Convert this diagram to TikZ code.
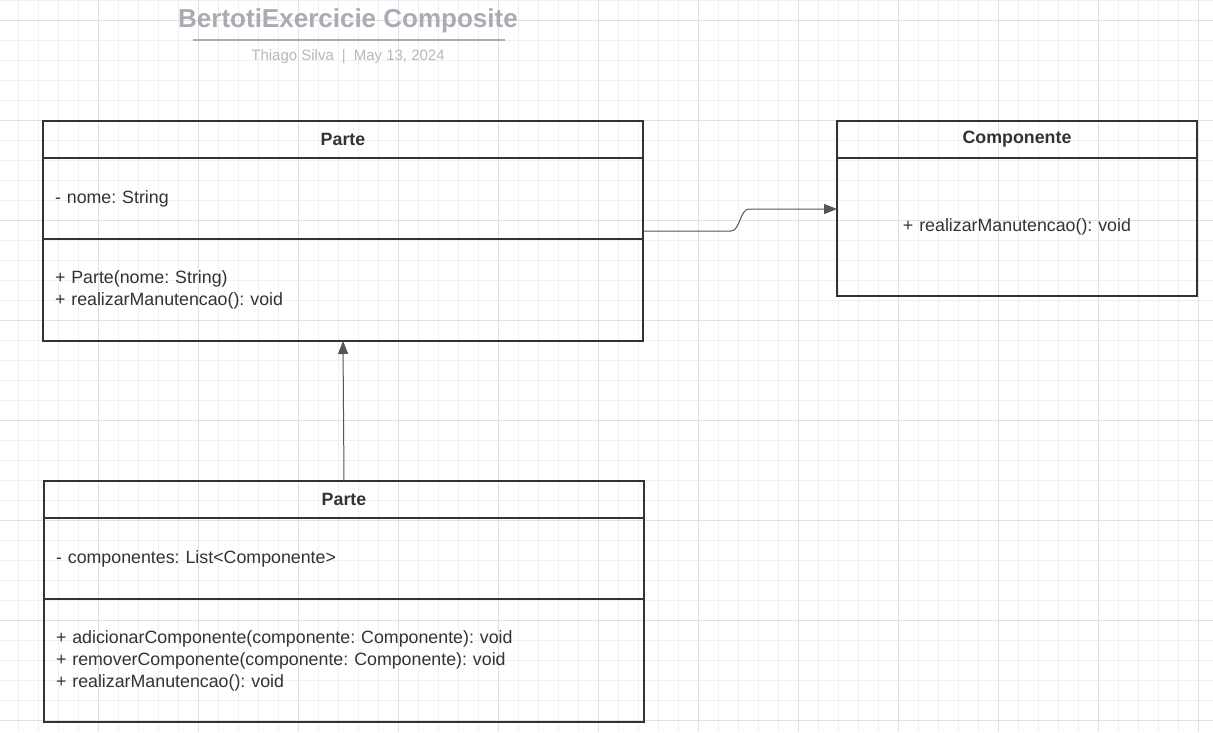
\documentclass[tikz,border=0pt]{standalone}
\usepackage{fontspec}
\setmainfont{Liberation Sans}
\usetikzlibrary{arrows.meta, positioning, calc}
\definecolor{ink}{HTML}{333333}
\definecolor{titlegray}{HTML}{A9ACB5}
\definecolor{subgray}{HTML}{B6B8BF}
\definecolor{gridminor}{HTML}{F0F0F0}
\definecolor{gridmajor}{HTML}{E0E0E0}
\definecolor{wire}{HTML}{555555}
\frenchspacing

\begin{document}
\begin{tikzpicture}[
  x=1pt, y=-1pt,
  >=Stealth,
  font=\fontsize{17.8}{22}\selectfont,
  every node/.style={text=ink},
  % Node styles
  head/.style    = {rectangle, draw=ink, line width=2pt, anchor=north west,
                    minimum width=600pt, minimum height=37pt,
                    inner sep=0pt, outer sep=0pt,
                    font=\fontsize{17.8}{22}\selectfont\bfseries},
  compart/.style = {rectangle, draw=ink, line width=2pt, anchor=north west,
                    minimum width=600pt, text width=576pt, align=left,
                    inner sep=0pt, outer sep=0pt},
  % Arrow styles
  assoc/.style   = {-{Triangle[length=13pt, width=10pt]}, line width=1pt, wire},
  % Grid styles
  minorgrid/.style = {gridminor, line width=1pt},
  majorgrid/.style = {gridmajor, line width=1pt}
]
\useasboundingbox (0,0) rectangle (1213,732);

% =========================== BACKGROUND GRID ===========================
\begin{scope}
  \clip (0,0) rectangle (1213,732);
  \fill[white] (0,0) rectangle (1213,732);
  \foreach \gx in {18,38,...,1218} \draw[minorgrid] (\gx,0) -- (\gx,732);
  \foreach \gy in {0,20,...,740}   \draw[minorgrid] (0,\gy) -- (1213,\gy);
  \foreach \gx in {-2,98,...,1198} \draw[majorgrid] (\gx,0) -- (\gx,732);
  \foreach \gy in {20,120,...,720} \draw[majorgrid] (0,\gy) -- (1213,\gy);
\end{scope}

% =========================== TITLE ===========================
\node[font=\fontsize{26}{30}\selectfont\bfseries, text=titlegray]
      (title)  at (348,21) {BertotiExercicie Composite};
\draw[titlegray, line width=2pt] (193,40) -- (505,40);
\node[font=\fontsize{15}{18}\selectfont, text=subgray]
      (byline) at (348,57) {Thiago Silva\hspace{8pt}|\hspace{8pt}May 13, 2024};

% =========================== CLASS PARTE (TOP) ===========================
\node[head]                       (parteH) at (43,121)           {Parte};
\node[compart, minimum height=81pt]  (parteA) at (parteH.south west) {- nome: String};
\node[compart, minimum height=102pt] (parteM) at (parteA.south west)
  {+ Parte(nome: String)\\+ realizarManutencao(): void};

% =========================== CLASS COMPONENTE ===========================
\node[head, minimum width=360pt]  (compH)  at (837,121)          {Componente};
\node[compart, minimum width=360pt, text width=336pt, align=center,
      minimum height=138pt]       (compM)  at (compH.south west) {+ realizarManutencao(): void};

% =========================== CLASS PARTE (BOTTOM) ===========================
\node[head]                       (parteBH) at (44,481)            {Parte};
\node[compart, minimum height=81pt]  (parteBA) at (parteBH.south west) {- componentes: List<Componente>};
\node[compart, minimum height=123pt] (parteBM) at (parteBA.south west)
  {+ adicionarComponente(componente: Componente): void\\
   + removerComponente(componente: Componente): void\\
   + realizarManutencao(): void};

% =========================== RELATIONS ===========================
% Parte -> Componente, with a small step in the middle
\draw[assoc] ($(parteA.south east)+(0,-8)$) -- ++(88,0)
  .. controls +(9,0) and +(-9,0) .. ++(18,-22)
  -- ($(compM.north west)+(0,51)$);

% lower Parte -> upper Parte
\draw[assoc] (parteBH.north) -- (parteM.south);

\end{tikzpicture}
\end{document}
